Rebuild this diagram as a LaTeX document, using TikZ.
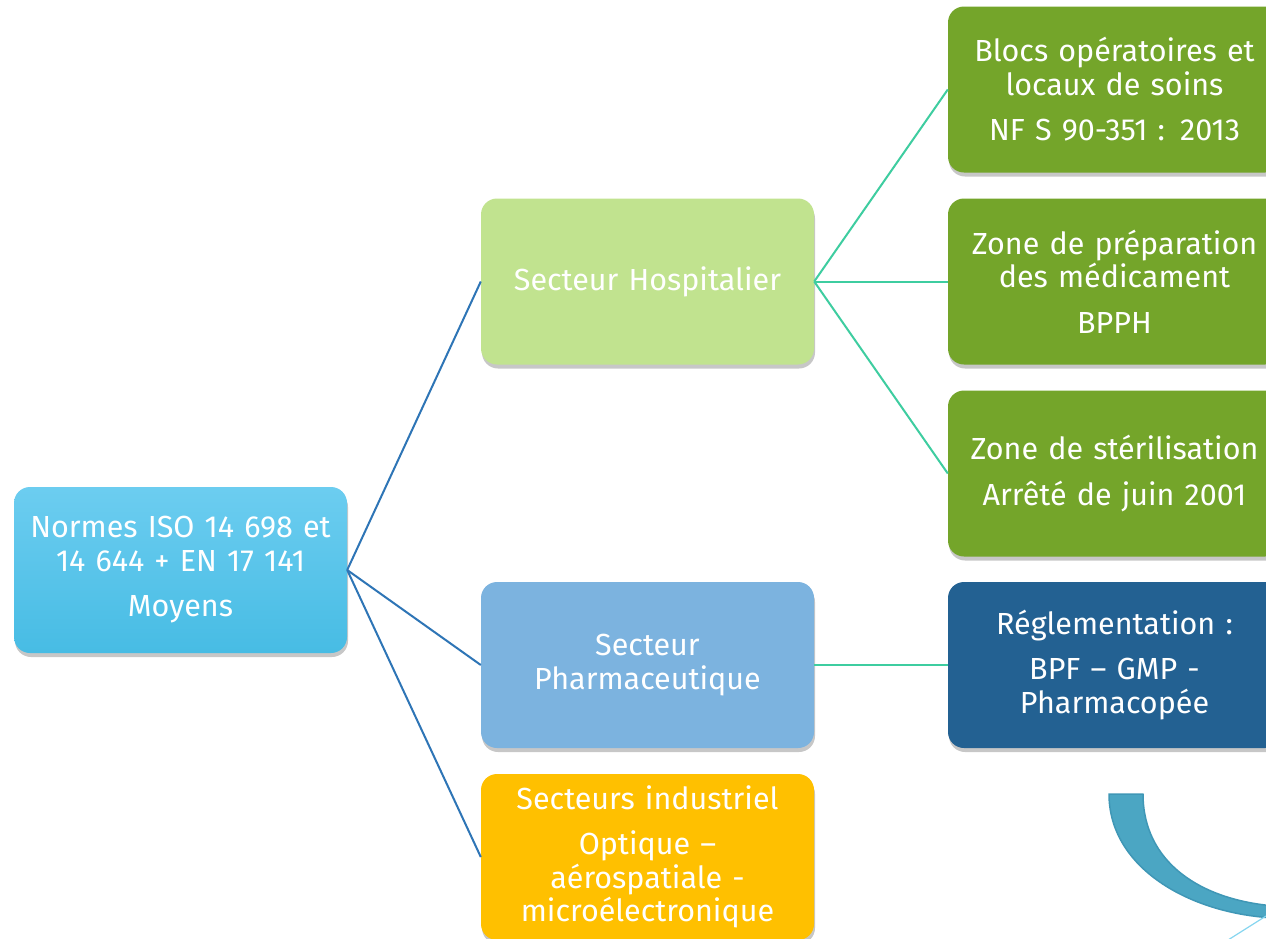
\documentclass[tikz,border=0pt]{standalone}
\usepackage{fontspec}
\setmainfont{Fira Sans}
\usetikzlibrary{shadows}
\definecolor{rootTop}{HTML}{6CCDF0}
\definecolor{rootBot}{HTML}{47BCE4}
\definecolor{hospC}{HTML}{C1E38F}
\definecolor{pharmC}{HTML}{7CB3DF}
\definecolor{indC}{HTML}{FFC000}
\definecolor{greenC}{HTML}{74A52A}
\definecolor{navyC}{HTML}{236192}
\definecolor{blueLine}{HTML}{2E75B6}
\definecolor{tealLine}{HTML}{3ECDA0}
\definecolor{arcFill}{HTML}{4BA6C3}
\definecolor{arcEdge}{HTML}{3F97B6}
\definecolor{thinLine}{HTML}{86D6F0}
\tikzset{
  box/.style={rectangle, rounded corners=16pt, minimum width=333pt, minimum height=166pt,
    text width=326pt, align=center, text=white, inner sep=0pt,
    font=\fontsize{30.5}{33.5}\selectfont,
    drop shadow={shadow xshift=1pt, shadow yshift=-4pt, opacity=0.22, fill=black}},
  lvlone/.style={draw=blueLine, line width=2pt},
  lvltwo/.style={draw=tealLine, line width=2pt},
}
\begin{document}
\begin{tikzpicture}[x=1pt,y=-1pt]
\useasboundingbox (0,0) rectangle (1266,938);
\clip (0,0) rectangle (1266,938);
\fill[white] (0,0) rectangle (1266,938);

% nodes
\node[box, top color=rootTop, bottom color=rootBot] (root) at (180.5,570)
  {Normes ISO 14 698 et\\14 644 + EN 17 141\\[12pt]Moyens};
\node[box, fill=hospC] (hosp) at (647.5,281.5) {Secteur Hospitalier};
\node[box, fill=pharmC] (phar) at (647.5,665) {Secteur\\Pharmaceutique};
\node[box, fill=indC] (ind) at (647.5,857)
  {Secteurs industriel\\[12pt]Optique –\\aérospatiale -\\microélectronique};
\node[box, fill=greenC] (g1) at (1114.5,89.5)
  {Blocs opératoires et\\locaux de soins\\[12pt]NF S 90-351 : 2013};
\node[box, fill=greenC] (g2) at (1114.5,281.5)
  {Zone de préparation\\des médicament\\[12pt]BPPH};
\node[box, fill=greenC] (g3) at (1114.5,473.5)
  {Zone de stérilisation\\[12pt]Arrêté de juin 2001};
\node[box, fill=navyC] (nav) at (1114.5,665)
  {Réglementation :\\[12pt]BPF – GMP -\\Pharmacopée};

\draw[lvlone] (root.east) -- (hosp.west);
\draw[lvlone] (root.east) -- (phar.west);
\draw[lvlone] (root.east) -- (ind.west);
\draw[lvltwo] (hosp.east) -- (g1.west);
\draw[lvltwo] (hosp.east) -- (g2.west);
\draw[lvltwo] (hosp.east) -- (g3.west);
\draw[lvltwo] (phar.east) -- (nav.west);

% curved arrow band
\filldraw[fill=arcFill, draw=arcEdge, line width=1.5pt, line join=round]
  (1109,794) -- (1143,794)
  .. controls (1143,862) and (1200,900) .. (1275,906)
  -- (1275,918)
  .. controls (1190,914) and (1109,868) .. cycle;
\coordinate (arcEnd) at (1266,916);
\coordinate (thinEnd) at (1228,940);
\draw[thinLine, line width=1.2pt] (arcEnd) -- (thinEnd);
\end{tikzpicture}
\end{document}
